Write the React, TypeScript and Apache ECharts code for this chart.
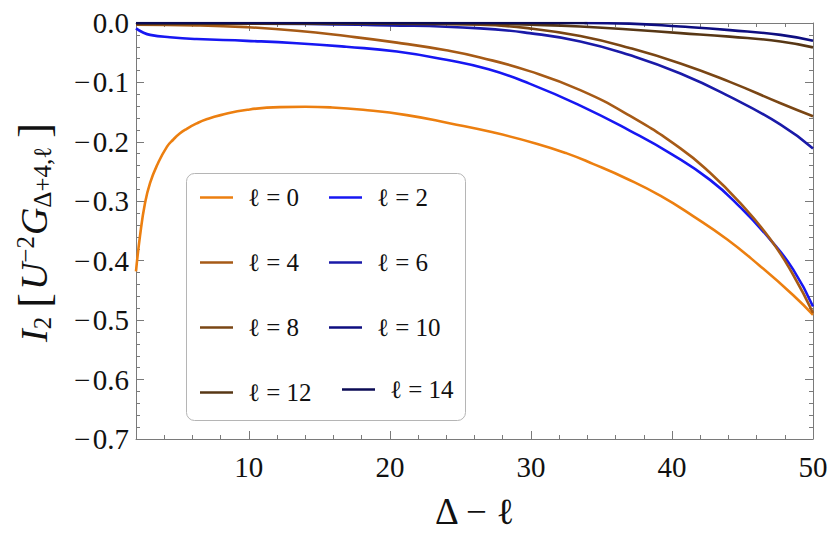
import React, { useEffect, useRef } from "react";
import * as echarts from "echarts";

// ---- data ----
const x0 = [2, 2.28, 2.64, 3.0, 3.5, 4.2, 4.65, 5.1, 5.6, 6.3, 7.0, 8.0, 9.9, 12.2, 14.0, 15.8, 18.1, 21.2, 24.3, 27.3, 30.4, 32.5, 34.4, 36.8, 39.2, 41.5, 43.9, 46.2, 48.6, 50];
const y0 = [-0.418, -0.359, -0.303, -0.269, -0.239, -0.208, -0.196, -0.186, -0.178, -0.169, -0.162, -0.155, -0.146, -0.1415, -0.141, -0.142, -0.146, -0.155, -0.169, -0.184, -0.203, -0.219, -0.237, -0.262, -0.291, -0.325, -0.364, -0.408, -0.458, -0.491];

const x2 = [2, 2.5, 3.0, 4.4, 6.3, 9.85, 13.4, 16.9, 20.5, 24.0, 27.0, 29.9, 33.5, 37.0, 40.0, 42.7, 44.8, 46.95, 48.6, 50];
const y2 = [-0.009, -0.016, -0.02, -0.024, -0.027, -0.03, -0.034, -0.04, -0.048, -0.062, -0.078, -0.102, -0.139, -0.181, -0.221, -0.264, -0.309, -0.364, -0.415, -0.477];

const x4 = [2, 6.3, 9.85, 13.4, 16.9, 20.5, 24.0, 26.4, 29.9, 33.5, 37.0, 40.6, 42.7, 44.8, 46.95, 48.6, 50];
const y4 = [-0.003, -0.004, -0.007, -0.013, -0.022, -0.033, -0.046, -0.058, -0.081, -0.113, -0.156, -0.211, -0.252, -0.302, -0.363, -0.424, -0.488];

const x6 = [2, 10, 20, 26.4, 29.9, 33.5, 37.0, 40.6, 44.1, 47.7, 50];
const y6 = [-0.001, -0.001, -0.004, -0.009, -0.017, -0.031, -0.054, -0.085, -0.124, -0.171, -0.211];

const x8 = [2, 10, 20, 26.4, 29.9, 33.5, 37.0, 40.6, 44.1, 47.7, 50];
const y8 = [-0.002, -0.001, -0.001, -0.003, -0.009, -0.022, -0.042, -0.068, -0.099, -0.135, -0.157];

const x10 = [33.8, 37.0, 40.6, 44.1, 47.7, 50];
const y10 = [0, -0.001, -0.006, -0.012, -0.02, -0.03];

const x12 = [2, 20, 26.4, 30, 33.5, 37.0, 40.6, 44.1, 47.7, 50];
const y12 = [-0.001, -0.001, -0.001, -0.003, -0.006, -0.011, -0.017, -0.023, -0.031, -0.041];

const x14 = [2, 20, 34];
const y14 = [0, 0, 0];

const seriesNames = ["ℓ = 0", "ℓ = 2", "ℓ = 4", "ℓ = 6", "ℓ = 8", "ℓ = 10", "ℓ = 12", "ℓ = 14"];
const seriesX = [x0, x2, x4, x6, x8, x10, x12, x14];
const seriesY = [y0, y2, y4, y6, y8, y10, y12, y14];
const seriesColors = ["#EC7F10", "#1717F2", "#A65A16", "#1A1AA8", "#7A4614", "#0E0E80", "#573715", "#0B0B55"];

const xMajorTicks = [10, 20, 30, 40, 50];
const legendLeftCol = ["ℓ = 0", "ℓ = 4", "ℓ = 8", "ℓ = 12"];
const legendRightCol = ["ℓ = 2", "ℓ = 6", "ℓ = 10"];
const legendLast = ["ℓ = 14"];

const FONT = "'Liberation Serif', 'DejaVu Serif', serif";
const FRAME = "#7a7a7a";

export default function App() {
  const ref = useRef<HTMLDivElement>(null);
  useEffect(() => {
    if (!ref.current) return;
    document.body.style.margin = "0";
    const chart = echarts.init(ref.current, undefined, { renderer: "svg" });

    const series = seriesNames.map((name, i) => ({
      name,
      type: "line",
      data: seriesX[i].map((x, k) => [x, seriesY[i][k]]),
      showSymbol: false,
      smooth: 0.5,
      clip: true,
      color: seriesColors[i],
      lineStyle: { width: 2.6, color: seriesColors[i] },
      xAxisIndex: 0,
      yAxisIndex: 0,
    }));

    const legendBase = {
      orient: "vertical",
      icon: "rect",
      itemWidth: 33,
      itemHeight: 2.5,
      itemGap: 40,
      selectedMode: false,
      textStyle: {
        fontFamily: FONT,
        fontSize: 25,
        lineHeight: 24,
        color: "#111",
        padding: [0, 0, 0, 10],
      },
    };

    const option: any = {
      animation: false,
      backgroundColor: "#fff",
      grid: { left: 136, right: 17, top: 23, bottom: 117, containLabel: false, outerBoundsMode: "none" },
      xAxis: [
        {
          type: "value",
          position: "bottom",
          min: 2,
          max: 50,
          interval: 2,
          axisLine: { show: true, onZero: false, lineStyle: { color: FRAME, width: 1 } },
          axisTick: { show: true, inside: true, length: 4, lineStyle: { color: FRAME } },
          axisLabel: {
            formatter: (v: number) => (Math.round(v) % 10 === 0 ? String(Math.round(v)) : ""),
            margin: 13,
            fontFamily: FONT,
            fontSize: 29,
            color: "#111",
          },
          splitLine: { show: false },
          name: "Δ − ℓ",
          nameLocation: "middle",
          nameGap: 54,
          nameTextStyle: { fontFamily: FONT, fontSize: 37, color: "#111" },
        },
        {
          type: "value",
          position: "bottom",
          min: 2,
          max: 50,
          axisLine: { show: false, onZero: false },
          axisTick: { show: true, inside: true, length: 8, customValues: xMajorTicks, lineStyle: { color: FRAME } },
          axisLabel: { show: false },
          splitLine: { show: false },
        },
        {
          type: "value",
          position: "top",
          min: 2,
          max: 50,
          interval: 2,
          axisLine: { show: true, onZero: false, lineStyle: { color: FRAME, width: 1 } },
          axisTick: { show: true, inside: true, length: 4, lineStyle: { color: FRAME } },
          axisLabel: { show: false },
          splitLine: { show: false },
        },
        {
          type: "value",
          position: "top",
          min: 2,
          max: 50,
          axisLine: { show: false, onZero: false },
          axisTick: { show: true, inside: true, length: 8, customValues: xMajorTicks, lineStyle: { color: FRAME } },
          axisLabel: { show: false },
          splitLine: { show: false },
        },
      ],
      yAxis: [
        {
          type: "value",
          position: "left",
          min: -0.7,
          max: 0,
          interval: 0.1,
          axisLine: { show: true, onZero: false, lineStyle: { color: FRAME, width: 1 } },
          axisTick: { show: true, inside: true, length: 8, lineStyle: { color: FRAME } },
          minorTick: { show: true, splitNumber: 5, length: 4, lineStyle: { color: FRAME } },
          axisLabel: {
            formatter: (v: number) => (Math.abs(v) < 1e-9 ? "0.0" : (v < 0 ? "−\u200A" : "") + Math.abs(v).toFixed(1)),
            margin: 7,
            fontFamily: FONT,
            fontSize: 29,
            color: "#111",
          },
          splitLine: { show: false },
          minorSplitLine: { show: false },
          name: "{it|I}{sub|2}{br|[}{it|U}{sup|−2}{it|G}{sub|Δ+4,ℓ}{br|]}",
          nameLocation: "middle",
          nameRotate: 90,
          nameGap: 80,
          nameTextStyle: {
            fontFamily: FONT,
            color: "#111",
            rich: {
              it: { fontFamily: FONT, fontStyle: "italic", fontSize: 38, color: "#111" },
              sub: { fontFamily: FONT, fontSize: 25, color: "#111", padding: [16, 1, 0, 0] },
              sup: { fontFamily: FONT, fontSize: 25, color: "#111", padding: [0, 1, 18, 0] },
              br: { fontFamily: FONT, fontSize: 44, color: "#111", padding: [0, 3, 0, 8] },
            },
          },
        },
        {
          type: "value",
          position: "right",
          min: -0.7,
          max: 0,
          interval: 0.1,
          axisLine: { show: true, onZero: false, lineStyle: { color: FRAME, width: 1 } },
          axisTick: { show: true, inside: true, length: 8, lineStyle: { color: FRAME } },
          minorTick: { show: true, splitNumber: 5, length: 4, lineStyle: { color: FRAME } },
          axisLabel: { show: false },
          splitLine: { show: false },
          minorSplitLine: { show: false },
        },
      ],
      legend: [
        { ...legendBase, data: legendLeftCol, left: 195, top: 180 },
        { ...legendBase, data: legendRightCol, left: 324, top: 180 },
        { ...legendBase, data: legendLast, left: 337, top: 372 },
      ],
      graphic: [
        {
          type: "rect",
          z: 3,
          shape: { x: 186.5, y: 173.5, width: 279, height: 247, r: 8 },
          style: { fill: "#fff", stroke: "#b5b5b5", lineWidth: 1 },
        },
      ],
      series,
    };

    chart.setOption(option);
    return () => chart.dispose();
  }, []);

  return <div ref={ref} style={{ width: 830, height: 556 }} />;
}
